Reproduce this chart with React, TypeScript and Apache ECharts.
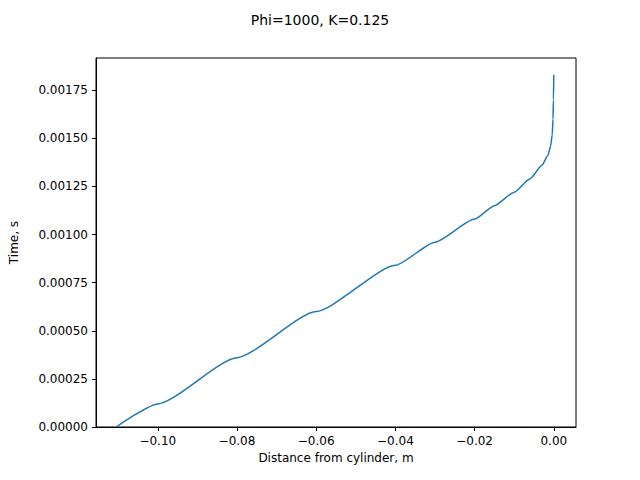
import React, { useEffect, useRef } from "react";
import * as echarts from "echarts";

const distance = [-0.1105, -0.1, -0.08, -0.06, -0.04, -0.03, -0.02, -0.015, -0.01, -0.006, -0.003, -0.0015, -0.0008, -0.0004, -0.0002, -0.0001, 0];
const time = [0, 0.00012, 0.00036, 0.0006, 0.00084, 0.00096, 0.00108, 0.00115, 0.00122, 0.00129, 0.00136, 0.00141, 0.00146, 0.00152, 0.0016, 0.0017, 0.00183];

const font = "DejaVu Sans";

const App = () => {
    const chartRef = useRef(null);

    useEffect(() => {
        document.body.style.margin = "0";
        if (!chartRef.current) return;
        const chart = echarts.init(chartRef.current, null, { renderer: "svg" });

        const option = {
            animation: false,
            title: {
                text: "Phi=1000, K=0.125",
                left: "center",
                top: 8,
                textStyle: { fontFamily: font, fontSize: 14, fontWeight: "normal", color: "#000" },
            },
            grid: {
                left: 80, right: 64, top: 58, bottom: 53,
                show: true, borderColor: "#000", borderWidth: 1,
            },
            xAxis: {
                type: "value",
                min: -0.1156,
                max: 0.0056,
                splitNumber: 6,
                name: "Distance from cylinder, m",
                nameLocation: "middle",
                nameGap: 24,
                nameTextStyle: { fontFamily: font, fontSize: 12, color: "#000" },
                axisLine: { show: true, onZero: false, lineStyle: { color: "#000" } },
                axisTick: { show: true, inside: false, length: 4, lineStyle: { color: "#000" } },
                splitLine: { show: false },
                axisLabel: {
                    showMinLabel: false,
                    showMaxLabel: false,
                    fontFamily: font, fontSize: 12, color: "#000",
                    formatter: (v: number) => {
                        const r = Math.round(v / 0.02);
                        if (Math.abs(v - r * 0.02) > 1e-6) return "";
                        const s = Math.abs(r * 0.02).toFixed(2);
                        return r < 0 ? "\u2212" + s : s;
                    },
                },
            },
            yAxis: {
                type: "value",
                min: 0,
                max: 0.001917,
                interval: 0.00025,
                name: "Time, s",
                nameLocation: "middle",
                nameGap: 76,
                nameTextStyle: { fontFamily: font, fontSize: 12, color: "#000" },
                axisLine: { show: true, onZero: false, lineStyle: { color: "#000" } },
                axisTick: { show: true, inside: false, length: 4, lineStyle: { color: "#000" } },
                splitLine: { show: false },
                axisLabel: {
                    showMaxLabel: false,
                    fontFamily: font, fontSize: 12, color: "#000",
                    formatter: (v: number) => v.toFixed(5),
                },
            },
            series: [
                {
                    type: "line",
                    data: distance.map((d, i) => [d, time[i]]),
                    smooth: 0.2,
                    smoothMonotone: "x",
                    showSymbol: false,
                    lineStyle: { color: "#1f77b4", width: 1.5 },
                },
            ],
        };

        chart.setOption(option);
        return () => chart.dispose();
    }, []);

    return <div ref={chartRef} style={{ width: "640px", height: "480px" }} />;
};

export default App;
